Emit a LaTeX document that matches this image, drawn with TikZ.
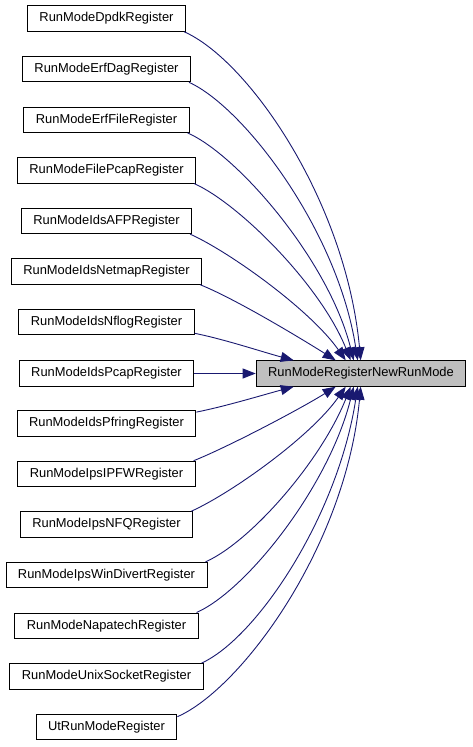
\documentclass[tikz,border=0pt]{standalone}
\usepackage{fontspec}
\setmainfont{Liberation Sans}
\usetikzlibrary{arrows.meta,calc}
\definecolor{edgeblue}{HTML}{191970}
\definecolor{hlgray}{HTML}{BFBFBF}
\begin{document}
\begin{tikzpicture}[x=1pt,y=-1pt,
  fn/.style={draw=black,line width=0.9pt,fill=white,inner xsep=12pt,inner ysep=0pt,minimum height=25.5pt,font=\fontsize{12.9}{14}\selectfont,anchor=center},
  hl/.style={fn,fill=hlgray},
  edge/.style={draw=edgeblue,line width=0.9pt,-{Triangle[length=13pt,width=10pt]}}]
\useasboundingbox (0,0) rectangle (472,747);
\node[hl] (R) at (361,373.5) {RunModeRegisterNewRunMode};
\node[fn] (L0) at (106.5,18.5) {RunModeDpdkRegister};
\node[fn] (L1) at (106.5,69.1) {RunModeErfDagRegister};
\node[fn] (L2) at (106.5,119.7) {RunModeErfFileRegister};
\node[fn] (L3) at (106.5,170.3) {RunModeFilePcapRegister};
\node[fn] (L4) at (106.5,220.9) {RunModeIdsAFPRegister};
\node[fn] (L5) at (106.5,271.5) {RunModeIdsNetmapRegister};
\node[fn] (L6) at (106.5,322.1) {RunModeIdsNflogRegister};
\node[fn] (L7) at (106.5,373.5) {RunModeIdsPcapRegister};
\node[fn] (L8) at (106.5,423.3) {RunModeIdsPfringRegister};
\node[fn] (L9) at (106.5,473.9) {RunModeIpsIPFWRegister};
\node[fn] (L10) at (106.5,524.5) {RunModeIpsNFQRegister};
\node[fn] (L11) at (106.5,575.1) {RunModeIpsWinDivertRegister};
\node[fn] (L12) at (106.5,625.7) {RunModeNapatechRegister};
\node[fn] (L13) at (106.5,676.3) {RunModeUnixSocketRegister};
\node[fn] (L14) at (106.5,726.9) {UtRunModeRegister};
% arrow end points on the target node
\coordinate (t0) at ($(R.north west)+(105,0)$);
\coordinate (t1) at ($(R.north west)+(102,0)$);
\coordinate (t2) at ($(R.north west)+(98,0)$);
\coordinate (t3) at ($(R.north west)+(95,0)$);
\coordinate (t4) at ($(R.north west)+(90,0)$);
\coordinate (t5) at ($(R.north west)+(80,0)$);
\coordinate (t6) at ($(R.north west)+(38,0)$);
\coordinate (b8) at ($(R.south west)+(38,0)$);
\coordinate (b9) at ($(R.south west)+(80,0)$);
\coordinate (b10) at ($(R.south west)+(90,0)$);
\coordinate (b11) at ($(R.south west)+(95,0)$);
\coordinate (b12) at ($(R.south west)+(98,0)$);
\coordinate (b13) at ($(R.south west)+(102,0)$);
\coordinate (b14) at ($(R.south west)+(105,0)$);
\draw[edge] ($(L0.south east)+(-2,0)$) .. controls +(64,28) and +(-15,-160) .. (t0);
\draw[edge] ($(L1.south east)+(-2,0)$) .. controls +(55,25) and +(-20,-130) .. (t1);
\draw[edge] ($(L2.south east)+(-2,0)$) .. controls +(50,22) and +(-25,-100) .. (t2);
\draw[edge] ($(L3.south east)+(-2,0)$) .. controls +(45,20) and +(-30,-75) .. (t3);
\draw[edge] ($(L4.south east)+(-2,0)$) .. controls +(40,18) and +(-35,-50) .. (t4);
\draw[edge] ($(L5.south east)+(-2,0)$) .. controls +(35,14) and +(-35,-22) .. (t5);
\draw[edge] ($(L6.south east)+(0,-2)$) .. controls +(30,6) and +(-30,-8) .. (t6);
\draw[edge] (L7.east) -- (R.west);
\draw[edge] ($(L8.north east)+(0,2)$) .. controls +(30,-6) and +(-30,8) .. (b8);
\draw[edge] ($(L9.north east)+(-2,0)$) .. controls +(35,-14) and +(-35,22) .. (b9);
\draw[edge] ($(L10.north east)+(-2,0)$) .. controls +(40,-18) and +(-35,50) .. (b10);
\draw[edge] ($(L11.north east)+(-2,0)$) .. controls +(45,-20) and +(-30,75) .. (b11);
\draw[edge] ($(L12.north east)+(-2,0)$) .. controls +(50,-22) and +(-25,100) .. (b12);
\draw[edge] ($(L13.north east)+(-2,0)$) .. controls +(55,-25) and +(-20,130) .. (b13);
\draw[edge] ($(L14.north east)+(0,3)$) .. controls +(64,-28) and +(-15,160) .. (b14);
\end{tikzpicture}
\end{document}
